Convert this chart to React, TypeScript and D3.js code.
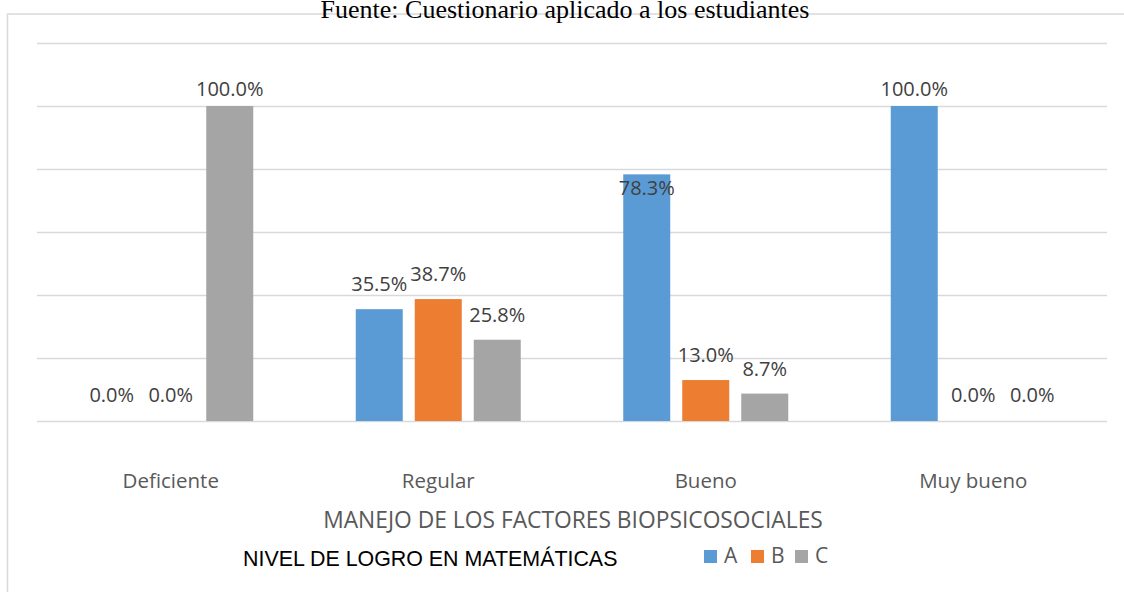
import React from 'react';
import * as d3 from 'd3';

const categories = ['Deficiente', 'Regular', 'Bueno', 'Muy bueno'];
const seriesNames = ['A', 'B', 'C'];
const seriesA = [0, 35.5, 78.3, 100];
const seriesB = [0, 38.7, 13.0, 0];
const seriesC = [100, 25.8, 8.7, 0];
const seriesColors = ['#5B9BD5', '#ED7D31', '#A5A5A5'];
const gridTicks = [0, 20, 40, 60, 80, 100, 120];

const chartTitle = 'Fuente: Cuestionario aplicado a los estudiantes';
const axisTitle = 'MANEJO DE LOS FACTORES BIOPSICOSOCIALES';
const legendTitle = 'NIVEL DE LOGRO EN MATEMÁTICAS';

const W = 1124;
const H = 592;

// labels that Excel placed somewhere other than just above the bar
const labelNudge: Record<string, number> = {
  'Deficiente|C': -10,
  'Muy bueno|A': -10,
  'Bueno|A': 21,
};

export default function App() {
  const values = [seriesA, seriesB, seriesC];

  const x = d3.scaleBand().domain(categories).range([37, 1107]).padding(0);
  const groupW = 165;
  const xs = d3
    .scaleBand()
    .domain(seriesNames)
    .range([0, groupW])
    .paddingInner(12 / 59)
    .paddingOuter(0);
  const y = d3.scaleLinear().domain([0, 120]).range([421, 43]);

  const fmt = (v: number) => v.toFixed(1) + '%';
  const sans = "'Open Sans', sans-serif";

  const legendX = [704, 751, 795];

  return (
    <svg
      width={W}
      height={H}
      style={{ position: 'absolute', left: 0, top: 0, background: '#fff' }}
    >
      <rect x={7.5} y={14} width={1140} height={600} fill="none" stroke="#d9d9d9" strokeWidth={1.5} />

      {gridTicks.map((t) => (
        <line
          key={t}
          x1={37}
          x2={1107}
          y1={Math.round(y(t)) + 0.5}
          y2={Math.round(y(t)) + 0.5}
          stroke="#d9d9d9"
          strokeWidth={1.5}
        />
      ))}

      {categories.map((c, ci) => {
        const gx = (x(c) as number) + x.bandwidth() / 2 - groupW / 2;
        return (
          <g key={c}>
            {seriesNames.map((s, si) => {
              const v = values[si][ci];
              const bx = gx + (xs(s) as number);
              const top = y(v);
              const dy = labelNudge[c + '|' + s] ?? -18;
              return (
                <g key={s}>
                  {v > 0 && (
                    <rect
                      x={bx}
                      y={top}
                      width={xs.bandwidth()}
                      height={y(0) - top}
                      fill={seriesColors[si]}
                    />
                  )}
                  <text
                    x={bx + xs.bandwidth() / 2}
                    y={v > 0 ? top + dy : y(0) - 19}
                    textAnchor="middle"
                    fontFamily={sans}
                    fontSize={20}
                    fill="#404040"
                  >
                    {fmt(v)}
                  </text>
                </g>
              );
            })}
            <text
              x={(x(c) as number) + x.bandwidth() / 2}
              y={488}
              textAnchor="middle"
              fontFamily={sans}
              fontSize={20.5}
              fill="#595959"
            >
              {c}
            </text>
          </g>
        );
      })}

      <text
        x={573}
        y={528}
        textAnchor="middle"
        fontFamily={sans}
        fontSize={22.8}
        fill="#595959"
      >
        {axisTitle}
      </text>

      <text x={243} y={566} fontFamily="'Liberation Sans', Arial, sans-serif" fontSize={21.4} fill="#000">
        {legendTitle}
      </text>

      {seriesNames.map((s, i) => (
        <g key={s}>
          <rect x={legendX[i]} y={550} width={13} height={13} fill={seriesColors[i]} />
          <text x={legendX[i] + 20} y={562.5} fontFamily={sans} fontSize={21} fill="#595959">
            {s}
          </text>
        </g>
      ))}

      <text
        x={565}
        y={18}
        textAnchor="middle"
        fontFamily="'Liberation Serif', 'Times New Roman', serif"
        fontSize={26}
        fill="#000"
      >
        {chartTitle}
      </text>
    </svg>
  );
}
